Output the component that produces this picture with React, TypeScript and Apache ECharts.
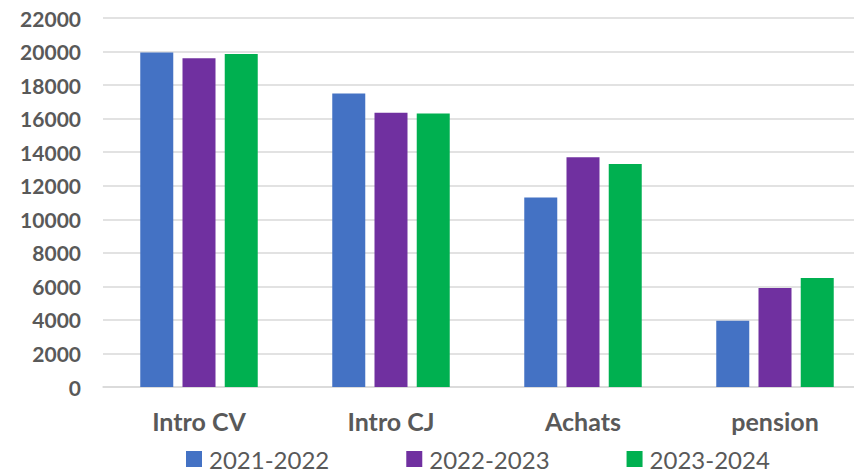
import React, { useEffect, useRef } from "react";
import * as echarts from "echarts";

const categories = ["Intro CV", "Intro CJ", "Achats", "pension"];
const seriesNames = ["2021-2022", "2022-2023", "2023-2024"];
const values2021 = [19950, 17500, 11300, 3950];
const values2022 = [19600, 16350, 13700, 5900];
const values2023 = [19850, 16300, 13300, 6500];
const colors = ["#4472C4", "#7030A0", "#00B050"];

export default function App() {
  const ref = useRef<HTMLDivElement>(null);
  useEffect(() => {
    if (!ref.current) return;
    const chart = echarts.init(ref.current, null, { renderer: "svg" });
    const data = [values2021, values2022, values2023];
    chart.setOption({
      animation: false,
      textStyle: { fontFamily: "Lato" },
      grid: { left: 103, width: 768, top: 18, bottom: 87, outerBoundsMode: "none", containLabel: false },
      legend: {
        bottom: 3,
        left: 186,
        padding: 0,
        itemWidth: 16,
        itemHeight: 16,
        itemGap: 77,
        icon: "rect",
        textStyle: { fontSize: 24, color: "#595959", fontFamily: "Lato", padding: [0, 0, 0, 2] },
        data: seriesNames,
      },
      xAxis: {
        type: "category",
        data: categories,
        axisLine: { lineStyle: { color: "#D9D9D9", width: 1.5 } },
        axisTick: { show: false },
        axisLabel: {
          fontSize: 25,
          fontWeight: "bold",
          color: "#595959",
          margin: 21,
          fontFamily: "Lato",
        },
      },
      yAxis: {
        type: "value",
        min: 0,
        max: 22000,
        interval: 2000,
        axisLine: { show: false },
        axisTick: { show: false },
        splitLine: { lineStyle: { color: "#D9D9D9", width: 1.5 } },
        axisLabel: {
          fontSize: 21,
          fontWeight: "bold",
          color: "#595959",
          margin: 22,
          fontFamily: "Lato",
          formatter: (v: number) => String(v),
        },
      },
      series: seriesNames.map((name, i) => ({
        name,
        type: "bar",
        data: data[i],
        barWidth: 33,
        barGap: "28%",
        itemStyle: { color: colors[i] },
      })),
    });
    return () => chart.dispose();
  }, []);
  return <div ref={ref} style={{ width: 854, height: 474, position: "absolute", left: 0, top: 0 }} />;
}
